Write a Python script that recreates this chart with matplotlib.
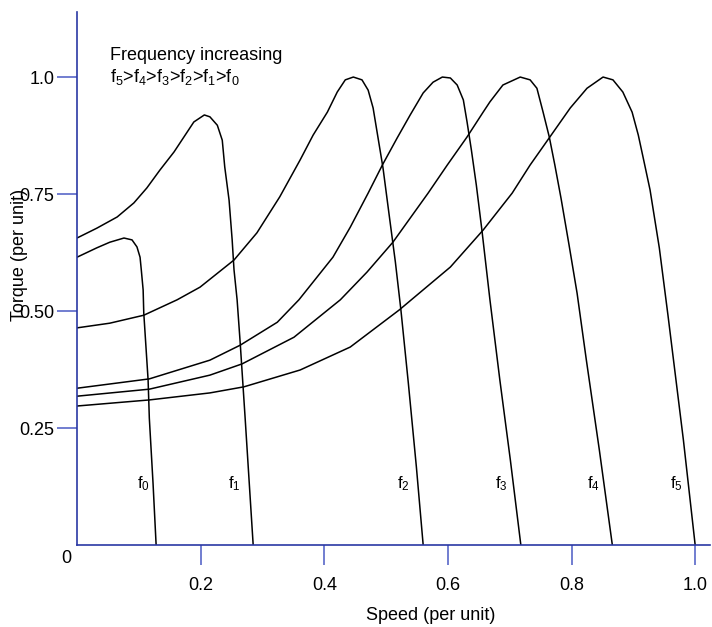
import matplotlib
matplotlib.use("Agg")
import matplotlib.pyplot as plt

plt.rcParams['font.family'] = ['Liberation Sans', 'DejaVu Sans']
plt.rcParams['mathtext.fontset'] = 'custom'
plt.rcParams['mathtext.rm'] = 'Liberation Sans'
plt.rcParams['mathtext.it'] = 'Liberation Sans'

# torque-speed curves (speed, torque in per unit)
f0_speed = [0.0, 0.032, 0.053, 0.076, 0.089, 0.097, 0.102, 0.104, 0.107, 0.108,
            0.115, 0.117, 0.123, 0.128]
f0_torque = [0.615, 0.635, 0.647, 0.656, 0.652, 0.637, 0.615, 0.588, 0.545, 0.496,
             0.353, 0.271, 0.132, 0.0]

f1_speed = [0.0, 0.032, 0.065, 0.092, 0.113, 0.134, 0.157, 0.178, 0.189, 0.206,
            0.215, 0.227, 0.235, 0.239, 0.246, 0.251, 0.254, 0.259, 0.264, 0.272,
            0.285]
f1_torque = [0.656, 0.677, 0.701, 0.731, 0.763, 0.801, 0.840, 0.882, 0.904, 0.919,
             0.915, 0.897, 0.865, 0.808, 0.737, 0.652, 0.588, 0.524, 0.432, 0.271,
             0.0]

f2_speed = [0.0, 0.053, 0.108, 0.162, 0.199, 0.254, 0.291, 0.328, 0.361, 0.382,
            0.405, 0.421, 0.434, 0.447, 0.461, 0.471, 0.479, 0.487, 0.495, 0.505,
            0.515, 0.524, 0.536, 0.549, 0.560]
f2_torque = [0.464, 0.474, 0.491, 0.524, 0.551, 0.609, 0.667, 0.744, 0.823, 0.876,
             0.925, 0.968, 0.994, 1.0, 0.994, 0.972, 0.934, 0.870, 0.806, 0.705,
             0.605, 0.502, 0.346, 0.167, 0.0]

f3_speed = [0.0, 0.117, 0.215, 0.264, 0.324, 0.359, 0.414, 0.442, 0.471, 0.494,
            0.518, 0.539, 0.560, 0.576, 0.591, 0.604, 0.615, 0.625, 0.631, 0.638,
            0.646, 0.655, 0.668, 0.684, 0.701, 0.718]
f3_torque = [0.335, 0.355, 0.395, 0.427, 0.476, 0.524, 0.615, 0.679, 0.752, 0.812,
             0.870, 0.919, 0.966, 0.989, 1.0, 0.998, 0.983, 0.951, 0.904, 0.844,
             0.769, 0.673, 0.524, 0.353, 0.182, 0.0]

f4_speed = [0.0, 0.117, 0.215, 0.267, 0.351, 0.426, 0.469, 0.511, 0.568, 0.599,
            0.631, 0.657, 0.668, 0.689, 0.717, 0.733, 0.744, 0.754, 0.764, 0.773,
            0.783, 0.796, 0.809, 0.824, 0.845, 0.866]
f4_torque = [0.318, 0.333, 0.363, 0.387, 0.444, 0.524, 0.583, 0.647, 0.752, 0.812,
             0.872, 0.925, 0.947, 0.983, 1.0, 0.994, 0.976, 0.925, 0.872, 0.812,
             0.741, 0.641, 0.538, 0.395, 0.203, 0.0]

f5_speed = [0.0, 0.117, 0.215, 0.270, 0.361, 0.442, 0.521, 0.604, 0.657, 0.704,
            0.733, 0.765, 0.798, 0.825, 0.851, 0.867, 0.883, 0.898, 0.908, 0.916,
            0.927, 0.942, 0.956, 0.981, 1.0]
f5_torque = [0.297, 0.310, 0.325, 0.338, 0.374, 0.423, 0.502, 0.594, 0.673, 0.752,
             0.812, 0.872, 0.934, 0.976, 1.0, 0.994, 0.968, 0.925, 0.876, 0.827,
             0.759, 0.635, 0.491, 0.224, 0.0]

curve_labels = [r'f$_0$', r'f$_1$', r'f$_2$', r'f$_3$', r'f$_4$', r'f$_5$']
x_ticks = [0.2, 0.4, 0.6, 0.8, 1.0]
x_tick_labels = ['0.2', '0.4', '0.6', '0.8', '1.0']
y_ticks = [0.25, 0.5, 0.75, 1.0]
y_tick_labels = ['0.25', '0.50', '0.75', '1.0']

# where the f-labels sit (speed, torque)
label_x = [0.097, 0.244, 0.518, 0.676, 0.825, 0.960]
label_y = 0.132

axis_blue = '#2a38a4'
tick_blue = '#4a5ac4'

fig = plt.figure(figsize=(7.12, 6.27), dpi=100)
ax = fig.add_axes([77 / 712, 82 / 627, 633 / 712, 533 / 627])

curves = [(f0_speed, f0_torque), (f1_speed, f1_torque), (f2_speed, f2_torque),
          (f3_speed, f3_torque), (f4_speed, f4_torque), (f5_speed, f5_torque)]
for (sx, ty) in curves:
    ax.plot(sx, ty, color='black', lw=1.1, solid_joinstyle='round')

for lx, lab in zip(label_x, curve_labels):
    ax.text(lx, label_y, lab, fontsize=12, ha='left', va='center')

ax.set_xlim(0, 1.024)
ax.set_ylim(0, 1.139)

for s in ['top', 'right']:
    ax.spines[s].set_visible(False)
for s in ['left', 'bottom']:
    ax.spines[s].set_color(axis_blue)
    ax.spines[s].set_linewidth(1.2)

ax.set_xticks(x_ticks)
ax.set_xticklabels(x_tick_labels)
ax.set_yticks(y_ticks)
ax.set_yticklabels(y_tick_labels)
ax.tick_params(axis='x', direction='out', length=14.4, width=1.1, color=tick_blue,
               labelsize=13, pad=8.5)
ax.tick_params(axis='y', direction='out', length=14.4, width=1.1, color=tick_blue,
               labelsize=13, pad=2)

# origin label
ax.text(-0.018, -0.028, '0', fontsize=13, ha='center', va='center', clip_on=False)

ax.text(0.053, 1.036, 'Frequency increasing', fontsize=13, va='baseline')
ax.text(0.053, 0.989, r'f$_5$>f$_4$>f$_3$>f$_2$>f$_1$>f$_0$', fontsize=13, va='baseline')

fig.text(431 / 712, 1 - 615 / 627, 'Speed (per unit)', fontsize=13, ha='center', va='center')
fig.text(20 / 712, 1 - 255 / 627, 'Torque (per unit)', fontsize=13, ha='center', va='center',
         rotation=90)

fig.savefig('out.png', dpi=100)
